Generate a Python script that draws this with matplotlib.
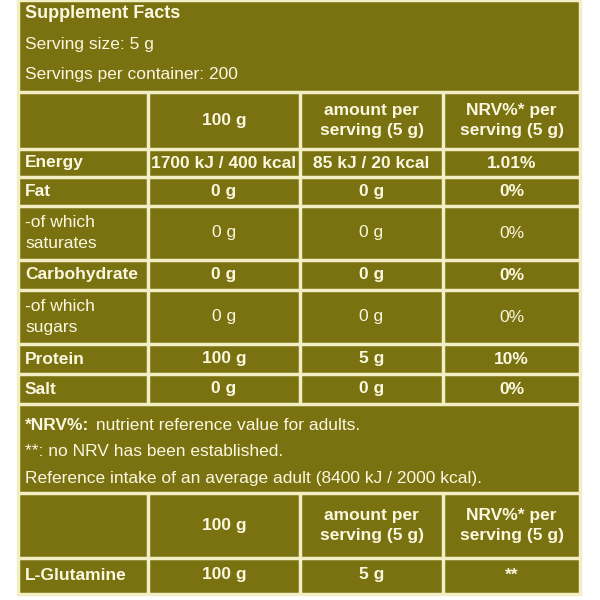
import matplotlib
matplotlib.use("Agg")
import matplotlib.pyplot as plt
from matplotlib.patches import Rectangle

plt.rcParams['font.family'] = ['Liberation Sans Narrow', 'Liberation Sans', 'DejaVu Sans']

OLIVE = '#7a7110'
LINE = '#f3efc4'
TXT = '#fbf8e0'

title = "Supplement Facts"
serving_lines = ["Serving size: 5 g", "Servings per container: 200"]
col_headers = ["100 g", "amount per\nserving (5 g)", "NRV%* per\nserving (5 g)"]
row_labels = ["Energy", "Fat", "-of which\nsaturates", "Carbohydrate", "-of which\nsugars", "Protein", "Salt"]
row_bold = [True, True, False, True, False, True, True]
per_100g = ["1700 kJ / 400 kcal", "0 g", "0 g", "0 g", "0 g", "100 g", "0 g"]
per_serving = ["85 kJ / 20 kcal", "0 g", "0 g", "0 g", "0 g", "5 g", "0 g"]
nrv = ["1.01%", "0%", "0%", "0%", "0%", "10%", "0%"]
note_bold = "*NRV%:"
notes = [" nutrient reference value for adults.",
         "**: no NRV has been established.",
         "Reference intake of an average adult (8400 kJ / 2000 kcal)."]
amino_label = "L-Glutamine"
amino_vals = ["100 g", "5 g", "**"]

# layout in pixels
cols = [18, 148, 300, 443, 580]
row_edges = [149, 177, 206, 260, 290, 344, 374, 404]
FS = 12.5

fig = plt.figure(figsize=(6, 6), dpi=100)
ax = fig.add_axes([0, 0, 1, 1])
ax.set_xlim(0, 600)
ax.set_ylim(600, 0)
ax.axis('off')

ax.add_patch(Rectangle((cols[0], 0), cols[-1] - cols[0], 594, facecolor=OLIVE, edgecolor=LINE, lw=2.5))

def hline(y, x0=cols[0], x1=cols[-1]):
    ax.plot([x0, x1], [y, y], color=LINE, lw=2.5, solid_capstyle='butt')

def vline(x, y0, y1):
    ax.plot([x, x], [y0, y1], color=LINE, lw=2.5, solid_capstyle='butt')

# top block
ax.text(25, 13, title, color=TXT, fontsize=13, fontweight='bold', va='center')
for i, s in enumerate(serving_lines):
    ax.text(25, 45 + i * 29, s, color=TXT, fontsize=FS, va='center')
hline(92)

def header_row(y0, y1):
    for j, h in enumerate(col_headers):
        ax.text((cols[j + 1] + cols[j + 2]) / 2, (y0 + y1) / 2, h, color=TXT, fontsize=FS,
                fontweight='bold', ha='center', va='center', linespacing=1.4)
    for x in cols[1:-1]:
        vline(x, y0, y1)

header_row(92, 149)
for i, y in enumerate(row_edges):
    hline(y)
    if i == 0:
        continue
    top = row_edges[i - 1]
    mid = (top + y) / 2
    k = i - 1
    w = 'bold' if row_bold[k] else 'normal'
    ax.text(25, mid, row_labels[k], color=TXT, fontsize=FS, fontweight=w, va='center', linespacing=1.5)
    for j, v in enumerate([per_100g[k], per_serving[k], nrv[k]]):
        ax.text((cols[j + 1] + cols[j + 2]) / 2, mid, v, color=TXT, fontsize=FS, fontweight=w,
                ha='center', va='center')
    for x in cols[1:-1]:
        vline(x, top, y)

# notes: bold prefix, then the rest right after it
t = ax.text(25, 425, note_bold, color=TXT, fontsize=FS, fontweight='bold', va='center')
fig.canvas.draw()
bb = t.get_window_extent().transformed(ax.transData.inverted())
ax.text(max(bb.x0, bb.x1) + 2, 425, notes[0], color=TXT, fontsize=FS, va='center')
ax.text(25, 452, notes[1], color=TXT, fontsize=FS, va='center')
ax.text(25, 478, notes[2], color=TXT, fontsize=FS, va='center')
hline(493)

header_row(493, 558)
hline(558)
ax.text(25, 575, amino_label, color=TXT, fontsize=FS, fontweight='bold', va='center')
for j, v in enumerate(amino_vals):
    ax.text((cols[j + 1] + cols[j + 2]) / 2, 575, v, color=TXT, fontsize=FS, fontweight='bold',
            ha='center', va='center')
for x in cols[1:-1]:
    vline(x, 558, 594)

fig.savefig("out.png", dpi=100, facecolor='white')
